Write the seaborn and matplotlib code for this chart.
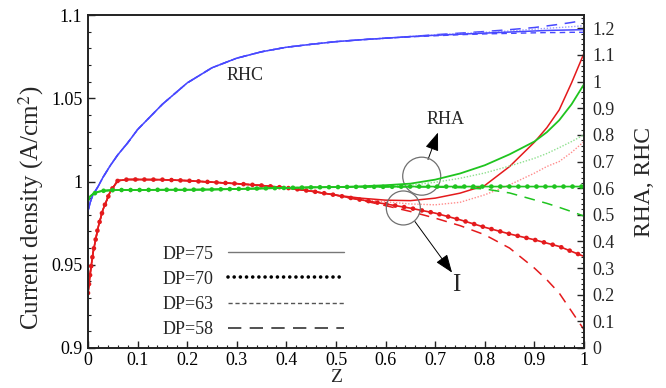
import matplotlib
matplotlib.use("Agg")
import matplotlib.pyplot as plt
from matplotlib import font_manager
import seaborn as sns
import numpy as np
from matplotlib.lines import Line2D
from matplotlib.patches import Ellipse
from matplotlib.ticker import MultipleLocator, FuncFormatter

# ---------------- data ----------------
z = [0, 0.005, 0.01, 0.02, 0.03, 0.045, 0.06, 0.08, 0.1, 0.15, 0.2, 0.25, 0.3,
     0.35, 0.4, 0.45, 0.5, 0.55, 0.6, 0.65, 0.7, 0.75, 0.8, 0.85, 0.9, 0.925,
     0.95, 0.975, 1.0]

# current density I (left axis)
i_dp75 = [0.933, 0.946, 0.957, 0.972, 0.983, 0.994, 1.0005, 1.0012, 1.0012, 1.0011,
          1.0005, 0.9996, 0.9987, 0.9976, 0.9962, 0.9942, 0.9918,
          0.9900, 0.9888, 0.9885, 0.9900, 0.9930, 0.9976, 1.0090, 1.0236, 1.0323,
          1.0430, 1.0593, 1.0770]
i_dp70 = [0.933, 0.946, 0.957, 0.972, 0.983, 0.994, 1.0005, 1.0012, 1.0012, 1.0011,
          1.0005, 0.9996, 0.9987, 0.9976, 0.9962, 0.9942, 0.9918,
          0.9890, 0.9865, 0.9840, 0.9810, 0.9770, 0.9725, 0.9685, 0.9650, 0.9630,
          0.9610, 0.9580, 0.9550]
i_dp63 = [0.933, 0.946, 0.957, 0.972, 0.983, 0.994, 1.0005, 1.0012, 1.0012, 1.0011,
          1.0005, 0.9996, 0.9987, 0.9976, 0.9962, 0.9942, 0.9918,
          0.9893, 0.9878, 0.9865, 0.9860, 0.9875, 0.9920, 0.9980, 1.0050, 1.0090,
          1.0120, 1.0175, 1.0240]
i_dp58 = [0.933, 0.946, 0.957, 0.972, 0.983, 0.994, 1.0005, 1.0012, 1.0012, 1.0011,
          1.0005, 0.9996, 0.9987, 0.9976, 0.9962, 0.9942, 0.9918,
          0.9888, 0.9855, 0.9820, 0.9780, 0.9735, 0.9680, 0.9600, 0.9480, 0.9410,
          0.9330, 0.9220, 0.9110]

# RHA (right axis)
rha_dp75 = [0.560, 0.570, 0.578, 0.586, 0.590, 0.592, 0.593, 0.593, 0.593, 0.594,
            0.594, 0.595, 0.597, 0.599, 0.601, 0.603, 0.604,
            0.607, 0.611, 0.617, 0.632, 0.655, 0.686, 0.727, 0.775, 0.810,
            0.855, 0.915, 0.990]
rha_dp70 = [0.560, 0.570, 0.578, 0.586, 0.590, 0.592, 0.593, 0.593, 0.593, 0.594,
            0.594, 0.595, 0.597, 0.599, 0.601, 0.603, 0.604,
            0.605, 0.605, 0.606, 0.606, 0.606, 0.606, 0.606, 0.606, 0.606,
            0.606, 0.606, 0.606]
rha_dp63 = [0.560, 0.570, 0.578, 0.586, 0.590, 0.592, 0.593, 0.593, 0.593, 0.594,
            0.594, 0.595, 0.597, 0.599, 0.601, 0.603, 0.604,
            0.605, 0.607, 0.611, 0.622, 0.637, 0.657, 0.683, 0.712, 0.730,
            0.752, 0.775, 0.800]
rha_dp58 = [0.560, 0.570, 0.578, 0.586, 0.590, 0.592, 0.593, 0.593, 0.593, 0.594,
            0.594, 0.595, 0.597, 0.599, 0.601, 0.603, 0.604,
            0.605, 0.605, 0.605, 0.604, 0.602, 0.597, 0.582, 0.556, 0.543,
            0.528, 0.512, 0.495]

# RHC (right axis)
rhc_dp75 = [0.515, 0.550, 0.575, 0.605, 0.640, 0.685, 0.725, 0.770, 0.820, 0.915,
            0.995, 1.052, 1.088, 1.112, 1.129, 1.140, 1.150,
            1.157, 1.163, 1.169, 1.174, 1.178, 1.182, 1.186, 1.190, 1.192,
            1.193, 1.194, 1.195]
rhc_dp70 = [0.515, 0.550, 0.575, 0.605, 0.640, 0.685, 0.725, 0.770, 0.820, 0.915,
            0.995, 1.052, 1.088, 1.112, 1.129, 1.140, 1.150,
            1.157, 1.163, 1.168, 1.172, 1.176, 1.179, 1.181, 1.183, 1.184,
            1.184, 1.185, 1.185]
rhc_dp63 = [0.515, 0.550, 0.575, 0.605, 0.640, 0.685, 0.725, 0.770, 0.820, 0.915,
            0.995, 1.052, 1.088, 1.112, 1.129, 1.140, 1.150,
            1.157, 1.163, 1.169, 1.175, 1.180, 1.185, 1.190, 1.197, 1.200,
            1.203, 1.206, 1.210]
rhc_dp58 = [0.515, 0.550, 0.575, 0.605, 0.640, 0.685, 0.725, 0.770, 0.820, 0.915,
            0.995, 1.052, 1.088, 1.112, 1.129, 1.140, 1.150,
            1.157, 1.163, 1.169, 1.176, 1.182, 1.188, 1.195, 1.203, 1.209,
            1.215, 1.222, 1.230]

legend_labels = ["DP=75", "DP=70", "DP=63", "DP=58"]

# ---------------- style ----------------
sns.set_theme(style="ticks")
_available = {f.name for f in font_manager.fontManager.ttflist}
_serif = next((n for n in ["Liberation Serif", "Times New Roman", "Nimbus Roman",
                           "Nimbus Roman No9 L", "TeX Gyre Termes", "STIXGeneral",
                           "DejaVu Serif"] if n in _available), "serif")
plt.rcParams["font.family"] = [_serif, "DejaVu Serif"]
plt.rcParams["mathtext.fontset"] = "stix"

RED = "#e41a1c"
RED_L = "#ff8c8c"
GREEN = "#1fc41f"
GREEN_L = "#8fe08f"
BLUE = "#4848ff"
BLUE_L = "#9a9aff"

fig = plt.figure(figsize=(6.66, 3.88), dpi=100)
ax = fig.add_axes([88 / 666, 40 / 388, 496 / 666, 333 / 388])
ax2 = ax.twinx()

BEAD = dict(linestyle=(0, (0.01, 1.9)), lw=3.4, dash_capstyle="round")

# ---- current density (left axis)
sns.lineplot(x=z, y=i_dp58, ax=ax, color=RED, lw=1.1, linestyle=(0, (7, 5)), legend=False)
sns.lineplot(x=z, y=i_dp63, ax=ax, color=RED_L, lw=1.0, linestyle=(0, (1, 1.2)), legend=False)
sns.lineplot(x=z, y=i_dp70, ax=ax, color=RED, lw=1.2, legend=False)
sns.lineplot(x=z, y=i_dp70, ax=ax, color=RED, legend=False, **BEAD)
sns.lineplot(x=z, y=i_dp75, ax=ax, color=RED, lw=1.1, legend=False)

# ---- RHA / RHC (right axis)
sns.lineplot(x=z, y=rhc_dp58, ax=ax2, color=BLUE, lw=1.1, linestyle=(0, (7, 5)), legend=False)
sns.lineplot(x=z, y=rhc_dp63, ax=ax2, color=BLUE_L, lw=1.0, linestyle=(0, (1, 1.2)), legend=False)
sns.lineplot(x=z, y=rhc_dp70, ax=ax2, color=BLUE, lw=1.0, linestyle=(0, (4, 3)), legend=False)
sns.lineplot(x=z, y=rhc_dp75, ax=ax2, color=BLUE, lw=1.1, legend=False)

sns.lineplot(x=z, y=rha_dp58, ax=ax2, color=GREEN, lw=1.1, linestyle=(0, (7, 5)), legend=False)
sns.lineplot(x=z, y=rha_dp63, ax=ax2, color=GREEN_L, lw=1.0, linestyle=(0, (1, 1.2)), legend=False)
sns.lineplot(x=z, y=rha_dp70, ax=ax2, color=GREEN, lw=1.2, legend=False)
sns.lineplot(x=z, y=rha_dp70, ax=ax2, color=GREEN, legend=False, **BEAD)
sns.lineplot(x=z, y=rha_dp75, ax=ax2, color=GREEN, lw=1.3, legend=False)

# ---------------- axes ----------------
ax.set_xlim(0, 1)
ax.set_ylim(0.9, 1.1)
ax2.set_ylim(0, 1.25)

fmt = FuncFormatter(lambda v, p: f"{round(v, 3):g}")
ax.xaxis.set_major_locator(MultipleLocator(0.1))
ax.xaxis.set_minor_locator(MultipleLocator(0.02))
ax.yaxis.set_major_locator(MultipleLocator(0.05))
ax.yaxis.set_minor_locator(MultipleLocator(0.01))
ax2.yaxis.set_major_locator(MultipleLocator(0.1))
ax2.yaxis.set_minor_locator(MultipleLocator(0.02))
for a in (ax.xaxis, ax.yaxis, ax2.yaxis):
    a.set_major_formatter(fmt)

ax.tick_params(axis="both", which="both", direction="in", colors="#222222",
               labelcolor="black", top=False, right=False)
ax.tick_params(axis="both", which="major", length=5, width=1.0, labelsize=13)
ax.tick_params(axis="both", which="minor", length=2.5, width=0.8)
ax.tick_params(axis="x", which="major", pad=3)
ax.tick_params(axis="y", which="major", pad=4)
ax2.tick_params(axis="y", which="both", direction="in", left=False, right=True)
ax2.tick_params(axis="y", which="major", length=5, width=1.0, labelsize=13, pad=6)
ax2.tick_params(axis="y", which="minor", length=2.5, width=0.8)

for a in (ax, ax2):
    for s in a.spines.values():
        s.set_color("#222222")
        s.set_linewidth(1.2)

ax.set_xlabel("Z", fontsize=14)
ax.xaxis.set_label_coords(0.5, -0.062)
ax.set_ylabel("Current density (A/cm$^2$)", fontsize=18)
ax.yaxis.set_label_coords(-0.085, 0.42)
ax2.set_ylabel("RHA, RHC", fontsize=17)
ax2.yaxis.set_label_coords(1.10, 0.5)

# ---------------- annotations ----------------
ax.text(0.3165, 1.0637, "RHC", fontsize=13, ha="center", va="center")
ax.text(0.72, 1.0373, "RHA", fontsize=13, ha="center", va="center")
ax.text(0.742, 0.938, "I", fontsize=18, ha="center", va="center")

circ_rha = (0.6728, 1.0032)
circ_i = (0.6357, 0.9841)
ax.add_patch(Ellipse(circ_rha, 2 * 19 / 496, 2 * 19 * 0.2 / 333, fill=False,
                     ec="#707070", lw=0.9, zorder=5))
ax.add_patch(Ellipse(circ_i, 2 * 17 / 496, 2 * 17 * 0.2 / 333, fill=False,
                     ec="#707070", lw=0.9, zorder=5))
arrow_style = dict(arrowstyle="-|>,head_length=0.8,head_width=0.3",
                   color="black", lw=0.7, mutation_scale=14, shrinkA=0, shrinkB=0)
ax.annotate("", xy=(0.7056, 1.0294), xytext=(0.6855, 1.0132), arrowprops=arrow_style)
ax.annotate("", xy=(0.734, 0.9453), xytext=(0.659, 0.976), arrowprops=arrow_style)

# ---------------- legend ----------------
handles = [
    Line2D([], [], color="#777777", lw=1.0),
    Line2D([], [], color="black", lw=2.6, linestyle=(0, (0.01, 1.7)), dash_capstyle="round"),
    Line2D([], [], color="#555555", lw=1.0, linestyle=(0, (3, 2))),
    Line2D([], [], color="#333333", lw=1.2, linestyle=(0, (8, 5))),
]
ax.legend(handles, legend_labels, loc="lower left", bbox_to_anchor=(0.15, 0.03),
          markerfirst=False, frameon=False, fontsize=13, handlelength=6.4,
          handletextpad=0.8, labelspacing=0.45, borderaxespad=0, borderpad=0)

fig.savefig("out.png", dpi=100)
